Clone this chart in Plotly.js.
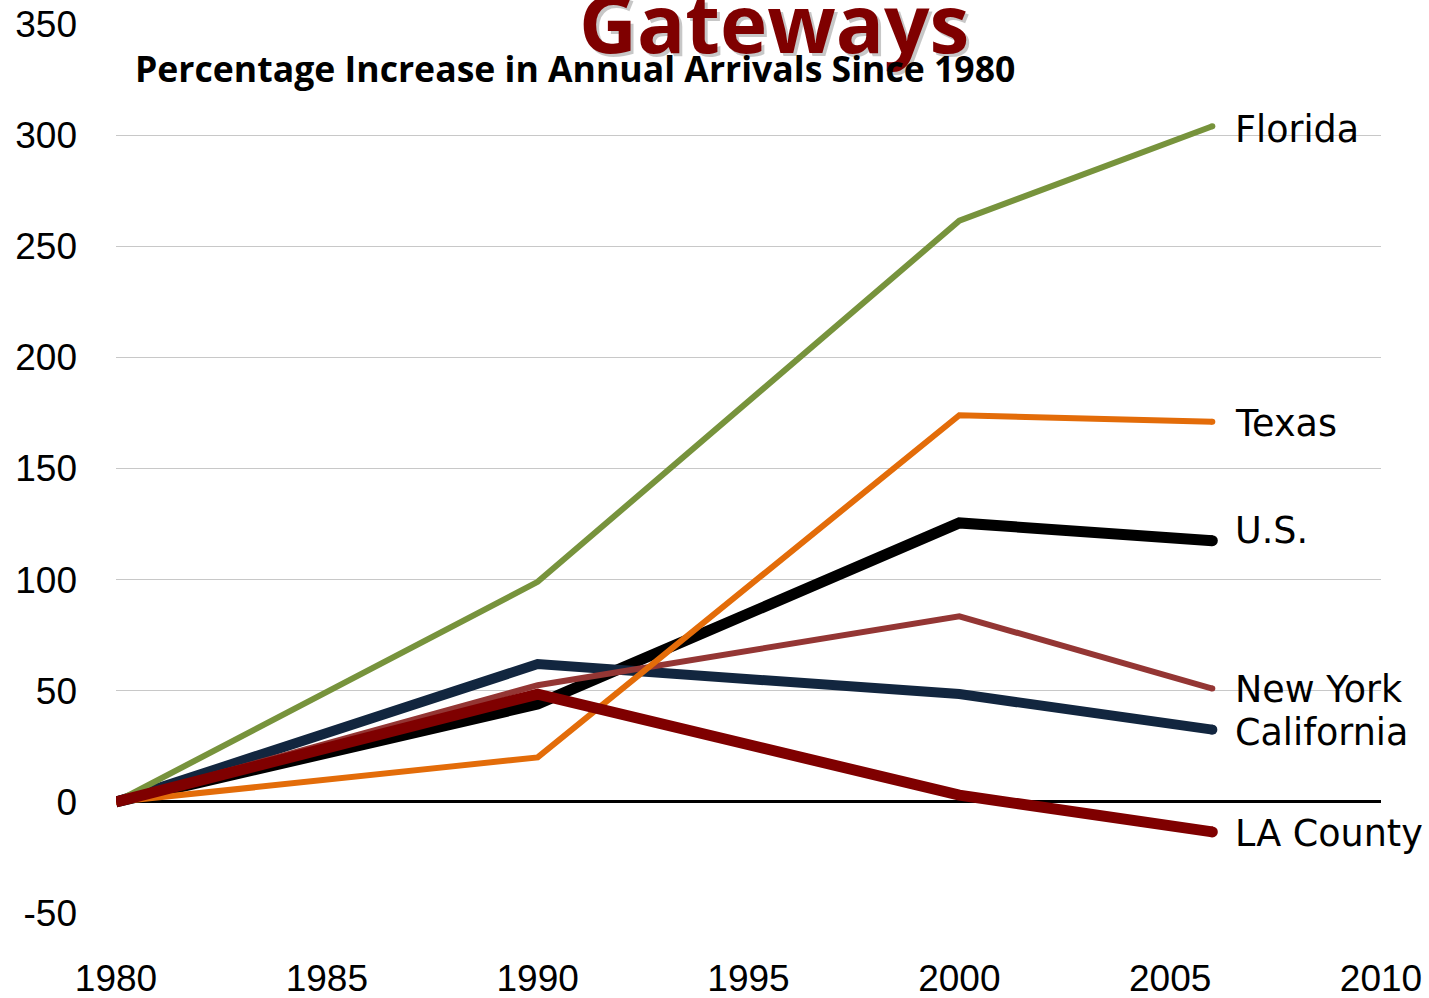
<!DOCTYPE html>
<html>
<head>
<meta charset="utf-8">
<script src="https://cdn.plot.ly/plotly-3.0.1.min.js"></script>
<style>html,body{margin:0;padding:0;background:#fff;}#chart{width:1429px;height:998px;}</style>
</head>
<body>
<div id="chart"></div>
<script>
const years = [1980, 1990, 2000, 2006];
const usVals = [0, 44, 125.5, 117.5];
const californiaVals = [0, 62, 48.5, 32.5];
const newYorkVals = [0, 52.5, 83.5, 51];
const floridaVals = [0, 99, 261.5, 304];
const texasVals = [0, 20, 174, 171];
const laCountyVals = [0, 48.5, 3, -13.5];
const seriesNames = ["U.S.", "California", "New York", "Florida", "Texas", "LA County"];
const xTicks = [1980, 1985, 1990, 1995, 2000, 2005, 2010];
const yTicks = [-50, 0, 50, 100, 150, 200, 250, 300, 350];

const values = [usVals, californiaVals, newYorkVals, floridaVals, texasVals, laCountyVals];
const colors = ["#000000", "#12263f", "#943634", "#77933c", "#e36c09", "#7f0000"];
const widths = [11, 10, 6, 6, 6, 11];
const labelShift = [10, -3, -1, -3, -2, -2];

const traces = values.map((v, i) => ({
  x: years, y: v, name: seriesNames[i], mode: 'lines',
  line: {color: colors[i], width: widths[i], shape: 'linear'},
  hoverinfo: 'skip', showlegend: false
}));
// rounded end caps
values.forEach((v, i) => {
  traces.push({x: [years[years.length-1]], y: [v[v.length-1]], mode: 'markers',
    marker: {color: colors[i], size: widths[i], line: {width: 0}}, showlegend: false, hoverinfo: 'skip'});
});

const annotations = values.map((v, i) => ({
  x: years[years.length-1], y: v[v.length-1], xref: 'x', yref: 'y',
  text: seriesNames[i], showarrow: false, xanchor: 'left', yanchor: 'middle',
  xshift: 21, yshift: labelShift[i],
  font: {family: 'DejaVu Sans, Verdana, sans-serif', size: 36.5, color: '#000'}
}));
const titleFont = 'Open Sans, sans-serif';
annotations.push({
  x: 0.52, y: 0.939, xref: 'paper', yref: 'paper', text: '<b>Gateways</b>', showarrow: false,
  xanchor: 'center', yanchor: 'bottom', xshift: 3, yshift: -3,
  font: {family: titleFont, size: 80, color: 'rgba(0,0,0,0.22)'}
});
annotations.push({
  x: 0.52, y: 0.939, xref: 'paper', yref: 'paper', text: '<b>Gateways</b>', showarrow: false,
  xanchor: 'center', yanchor: 'bottom',
  font: {family: titleFont, size: 80, color: '#7f0000'}
});
annotations.push({
  x: 0.0135, y: 0.951, xref: 'paper', yref: 'paper', text: '<b>Percentage Increase in Annual Arrivals Since 1980</b>',
  showarrow: false, xanchor: 'left', yanchor: 'middle',
  font: {family: titleFont, size: 35.6, color: '#000'}
});

const layout = {
  width: 1429, height: 998,
  margin: {l: 116, r: 48, t: 24, b: 85},
  paper_bgcolor: '#ffffff', plot_bgcolor: '#ffffff',
  showlegend: false,
  xaxis: {range: [1980, 2010], tickvals: xTicks, ticktext: xTicks.map(String),
    showgrid: false, zeroline: false, showline: false, ticks: '',
    ticklabelstandoff: 40,
    tickfont: {family: 'Liberation Sans Narrow, Arial Narrow, Liberation Sans, sans-serif', size: 37, color: '#000'}},
  yaxis: {range: [-50, 350], tickvals: yTicks, ticktext: yTicks.map(String),
    showgrid: true, gridcolor: '#c8c8c8', gridwidth: 1,
    zeroline: true, zerolinecolor: '#000000', zerolinewidth: 3,
    showline: false, ticks: '', ticklabelstandoff: 38,
    tickfont: {family: 'Liberation Sans Narrow, Arial Narrow, Liberation Sans, sans-serif', size: 37, color: '#000'}},
  annotations: annotations
};
Plotly.newPlot('chart', traces, layout, {displayModeBar: false, staticPlot: true});
</script>
</body>
</html>
